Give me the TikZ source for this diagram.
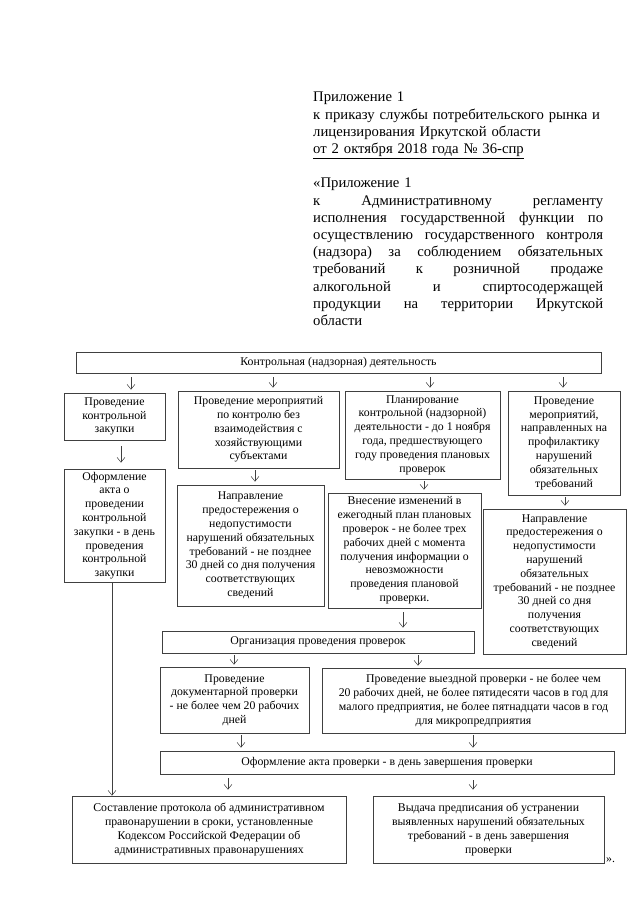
\documentclass[tikz,border=0pt]{standalone}
\usepackage{fontspec}
\setmainfont{Liberation Serif}
\usetikzlibrary{arrows.meta}

\begin{document}
\begin{tikzpicture}[x=1pt,y=-1pt,
  >={Straight Barb[length=5pt,width=8pt]},
  box/.style={draw=black!75,line width=0.6pt,align=center,inner sep=1pt,
    font=\fontsize{11.8}{13.8}\selectfont},
  arr/.style={->,draw=black!75,line width=0.5pt,shorten <=4pt,shorten >=3pt}]
\useasboundingbox (0,0) rectangle (640,902);

% heading
\node[anchor=north west,inner sep=0pt,text width=310pt,align=left,
  font=\fontsize{14.7}{17.2}\selectfont] (hdr) at (313,92) {%
Приложение 1\\
к приказу службы потребительского рынка и\\
лицензирования Иркутской области\\
\underline{от 2 октября 2018 года № 36-спр}\\[17.2pt]
«Приложение 1\\
\makebox[290pt]{к\hfill Административному\hfill регламенту}\\
\makebox[290pt]{исполнения\hfill государственной\hfill функции\hfill по}\\
\makebox[290pt]{осуществлению\hfill государственного\hfill контроля}\\
\makebox[290pt]{(надзора)\hfill за\hfill соблюдением\hfill обязательных}\\
\makebox[290pt]{требований\hfill к\hfill розничной\hfill продаже}\\
\makebox[290pt]{алкогольной\hfill и\hfill спиртосодержащей}\\
\makebox[290pt]{продукции\hfill на\hfill территории\hfill Иркутской}\\
области};

% boxes
\node[box,minimum width=525,minimum height=21] (top) at (338.5,362.5)
  {Контрольная (надзорная) деятельность};

\node[box,minimum width=101,minimum height=47] (zakupka) at (114.5,416.5)
  {Проведение\\контрольной\\закупки};
\node[box,minimum width=161,minimum height=77] (bezvz) at (258.5,429.5)
  {Проведение мероприятий\\по контролю без\\взаимодействия с\\хозяйствующими\\субъектами};
\node[box,minimum width=155,minimum height=88] (plan) at (422.5,435)
  {Планирование\\контрольной (надзорной)\\деятельности - до 1 ноября\\года, предшествующего\\году проведения плановых\\проверок};
\node[box,minimum width=112,minimum height=104] (profil) at (564,443)
  {Проведение\\мероприятий,\\направленных на\\профилактику\\нарушений\\обязательных\\требований};

\node[box,minimum width=101,minimum height=113] (aktzak) at (114.5,525.5)
  {Оформление\\акта о\\проведении\\контрольной\\закупки - в день\\проведения\\контрольной\\закупки};
\node[box,minimum width=147,minimum height=121] (predost) at (250.5,545.5)
  {Направление\\предостережения о\\недопустимости\\нарушений обязательных\\требований - не позднее\\30 дней со дня получения\\соответствующих\\сведений};
\node[box,minimum width=153,minimum height=115] (izmen) at (404.5,550.5)
  {Внесение изменений в\\ежегодный план плановых\\проверок - не более трех\\рабочих дней с момента\\получения информации о\\невозможности\\проведения плановой\\проверки.};
\node[box,minimum width=143,minimum height=145] (predostp) at (554.5,581.5)
  {Направление\\предостережения о\\недопустимости\\нарушений\\обязательных\\требований - не позднее\\30 дней со дня\\получения\\соответствующих\\сведений};

\node[box,minimum width=312,minimum height=22] (org) at (318,642)
  {Организация проведения проверок};
\node[box,minimum width=149,minimum height=66] (doc) at (234.5,700)
  {Проведение\\документарной проверки\\- не более чем 20 рабочих\\дней};
\node[box,minimum width=303,minimum height=65] (vyezd) at (473.5,700.5)
  {\hspace*{20pt}Проведение выездной проверки - не более чем\\20 рабочих дней, не более пятидесяти часов в год для\\малого предприятия, не более пятнадцати часов в год\\для микропредприятия};
\node[box,minimum width=454,minimum height=23] (akt) at (387,762.5)
  {Оформление акта проверки - в день завершения проверки};

\node[box,minimum width=274,minimum height=67] (protokol) at (209,829.5)
  {Составление протокола об административном\\правонарушении в сроки, установленные\\Кодексом Российской Федерации об\\административных правонарушениях};
\node[box,minimum width=231,minimum height=67] (predpis) at (488.5,829.5)
  {Выдача предписания об устранении\\выявленных нарушений обязательных\\требований - в день завершения\\проверки};
\node[anchor=base west,inner sep=0pt,font=\fontsize{11.8}{13.8}\selectfont] (kav)
  at (606,862) {».};

% arrows
\draw[arr] (131,0 |- top.south) -- (131,0 |- zakupka.north);
\draw[arr] (273,0 |- top.south) -- (273,0 |- bezvz.north);
\draw[arr] (430,0 |- top.south) -- (430,0 |- plan.north);
\draw[arr] (563,0 |- top.south) -- (563,0 |- profil.north);

\draw[arr,shorten <=6pt,shorten >=6pt] (121,0 |- zakupka.south) -- (121,0 |- aktzak.north);
\draw[arr,shorten <=2pt] (255,0 |- bezvz.south) -- (255,0 |- predost.north);
\draw[arr,shorten <=2pt] (424,0 |- plan.south) -- (424,0 |- izmen.north);
\draw[arr,shorten <=2pt] (565,0 |- profil.south) -- (565,0 |- predostp.north);

\draw[arr] (403,0 |- izmen.south) -- (403,0 |- org.north);
\draw[arr,shorten <=0pt,shorten >=0pt] (112,0 |- aktzak.south) -- (112,0 |- protokol.north);

\draw[arr,shorten <=2pt,shorten >=2pt] (234,0 |- org.south) -- (234,0 |- doc.north);
\draw[arr,shorten <=2pt,shorten >=2pt] (418,0 |- org.south) -- (418,0 |- vyezd.north);
\draw[arr,shorten <=2pt] (241,0 |- doc.south) -- (241,0 |- akt.north);
\draw[arr,shorten <=2pt] (473,0 |- vyezd.south) -- (473,0 |- akt.north);
\draw[arr,shorten <=4pt,shorten >=6pt] (228,0 |- akt.south) -- (228,0 |- protokol.north);
\draw[arr,shorten <=6pt,shorten >=6pt] (473,0 |- akt.south) -- (473,0 |- predpis.north);
\end{tikzpicture}
\end{document}
